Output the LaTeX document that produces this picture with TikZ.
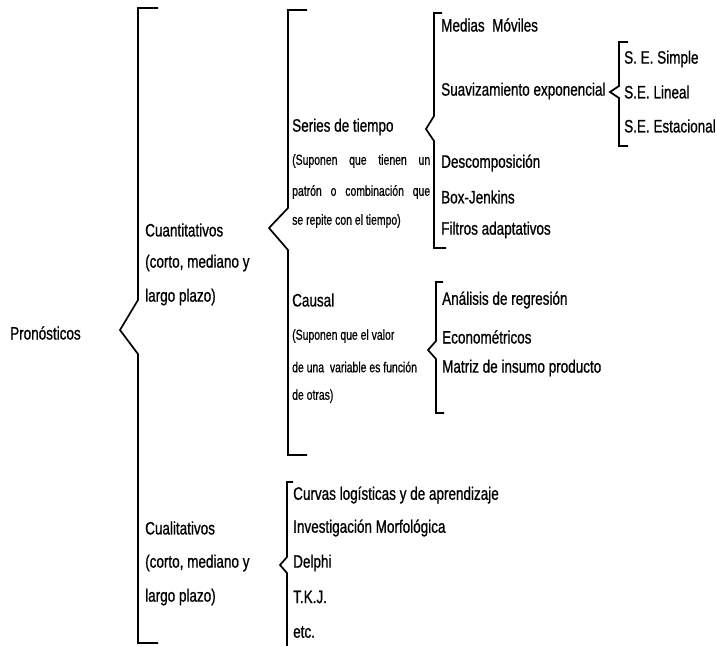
\documentclass[tikz,border=0pt]{standalone}
\usepackage{fontspec}
\setmainfont{Liberation Sans}[FakeStretch=0.75,FakeBold=0.8]
\newfontfamily\notafont{Liberation Sans}[FakeStretch=0.72,FakeBold=0.6]
\usepackage{tikz}

\tikzset{
  rama/.style={line width=1.7pt},
  etiq/.style={anchor=west,inner sep=0pt,font=\fontsize{18}{20}\selectfont},
  nota/.style={anchor=west,inner sep=0pt,font=\notafont\fontsize{14.5}{16}\selectfont}
}

\begin{document}
\begin{tikzpicture}[x=1pt,y=-1pt]
                \useasboundingbox (0,0) rectangle (717,645);
                % raiz
                \node[etiq] (pron) at (10,333) {Pronósticos};
                \draw[rama] (158,8) -- (138,8) -- (138,300) -- (120,330) -- (138,354) -- (138,643) -- (158,643);
                % cuantitativos
                \node[etiq] (cuanti) at (145,230) {Cuantitativos};
                \node[etiq] (cuantib) at (145,263) {(corto, mediano y};
                \node[etiq] (cuantic) at (145,297) {largo plazo)};
                \draw[rama] (307,10) -- (288,10) -- (288,208) -- (269,228) -- (288,250) -- (288,455) -- (307,455);
                % series de tiempo
                \node[etiq] (series) at (292,127) {Series de tiempo};
                \node[nota] (seriesa) at (292,161) {\makebox[138pt][s]{(Suponen que tienen un}};
                \node[nota] (seriesb) at (292,192) {\makebox[138pt][s]{patrón o combinación que}};
                \node[nota] (seriesc) at (292,221) {se repite con el tiempo)};
                \draw[rama] (442,13) -- (434,13) -- (434,116) -- (426,129) -- (434,141) -- (434,248) -- (446,248);
                \node[etiq] (medias) at (441,25) {Medias\ \ Móviles};
                \node[etiq] (suav) at (441,91) {Suavizamiento exponencial};
                \node[etiq] (desc) at (441,163) {Descomposición};
                \node[etiq] (boxj) at (441,197) {Box-Jenkins};
                \node[etiq] (filtros) at (441,230) {Filtros adaptativos};
                % suavizamiento
                \draw[rama] (628,42) -- (619,42) -- (619,86) -- (610,92) -- (619,98) -- (619,146) -- (628,146);
                \node[etiq] (ses) at (624,59) {S. E. Simple};
                \node[etiq] (sel) at (624,92) {S.E. Lineal};
                \node[etiq] (see) at (624,126) {S.E. Estacional};
                % causal
                \node[etiq] (causal) at (292,300) {Causal};
                \node[nota] (causala) at (292,336) {(Suponen que el valor};
                \node[nota] (causalb) at (292,367) {de una\ \ variable es función};
                \node[nota] (causalc) at (292,396) {de otras)};
                \draw[rama] (443,282) -- (436,282) -- (436,341) -- (428,350) -- (436,359) -- (436,413) -- (444,413);
                \node[etiq] (anal) at (442,300) {Análisis de regresión};
                \node[etiq] (econ) at (442,337) {Econométricos};
                \node[etiq] (matriz) at (442,368) {Matriz de insumo producto};
                % cualitativos
                \node[etiq] (cuali) at (145,528) {Cualitativos};
                \node[etiq] (cualib) at (145,563) {(corto, mediano y};
                \node[etiq] (cualic) at (145,597) {largo plazo)};
                \draw[rama] (293,482) -- (287,482) -- (287,557) -- (280,565) -- (287,573) -- (287,646);
                \node[etiq] (curvas) at (293,495) {Curvas logísticas y de aprendizaje};
                \node[etiq] (invest) at (293,528) {Investigación Morfológica};
                \node[etiq] (delphi) at (293,563) {Delphi};
                \node[etiq] (tkj) at (293,597) {T.K.J.};
                \node[etiq] (etc) at (293,632) {etc.};
            \end{tikzpicture}
\end{document}
